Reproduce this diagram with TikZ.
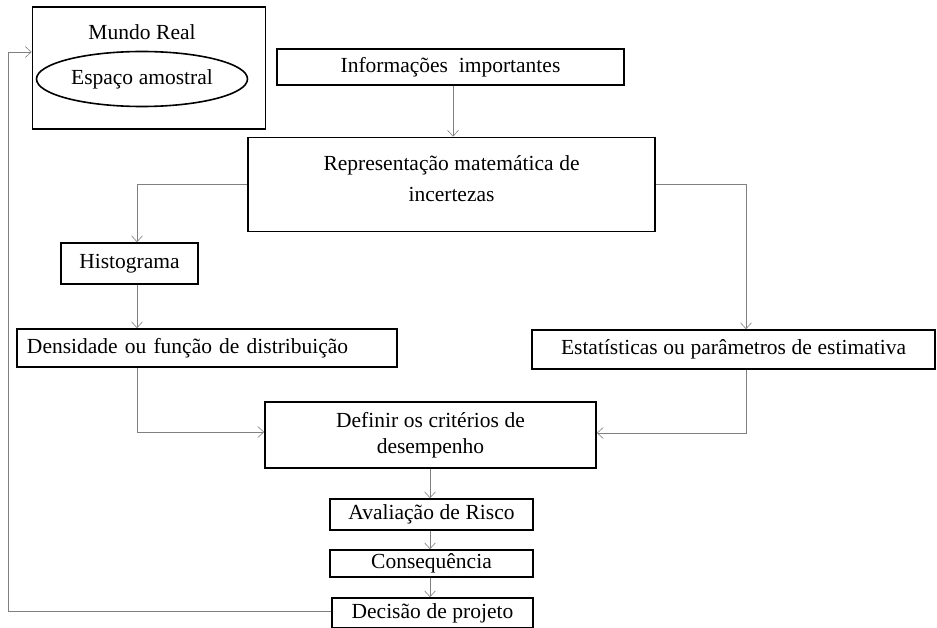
\documentclass[tikz,border=0pt]{standalone}
\usepackage{fontspec}
\setmainfont{Liberation Serif}[WordSpace=1.05]
\usetikzlibrary{arrows.meta,shapes.geometric}
% single-line labels sit slightly low in their boxes
\newcommand\lowlabel[1]{\raisebox{-2pt}{#1}}
\begin{document}
\begin{tikzpicture}[x=1pt,y=-1pt,
  box/.style={draw=black,line width=1.6pt,rectangle,inner sep=0pt,align=center,
    font=\fontsize{21.5}{26}\selectfont},
  conn/.style={draw=black!50,line width=0.6pt,
    -{Straight Barb[length=6pt,width=11pt,line width=0.6pt]}}]
\useasboundingbox (0,0) rectangle (937,628);
\begin{scope}
\clip (0,0) rectangle (937,628);

% upper block: the real world and its sample space
\node[box,minimum width=233,minimum height=122] (mundo) at (149,68) {};
\node[font=\fontsize{21.5}{26}\selectfont] (mundotxt) at (142,32) {Mundo Real};
\node[draw=black,line width=1.6pt,ellipse,minimum width=211,minimum height=55,inner sep=0pt,
  font=\fontsize{21.5}{26}\selectfont] (espaco) at (142,79) {Espaço amostral};

\node[box,minimum width=347,minimum height=36] (info) at (450.5,67) {\lowlabel{Informações\enspace importantes}};
\node[box,minimum width=407,minimum height=94,font=\fontsize{21.5}{31}\selectfont] (repr) at (451.5,184.5)
  {Representação matemática de\\incertezas\\[-19pt]};

\node[box,minimum width=137,minimum height=41] (hist) at (129.5,263.5) {\lowlabel{Histograma}};
\node[box,minimum height=38,text width=360,align=left,inner xsep=10pt] (dens) at (207,348)
  {\lowlabel{Densidade ou função de distribuição}};
\node[box,minimum width=403,minimum height=39] (est) at (733.5,349.5)
  {\lowlabel{Estatísticas ou parâmetros de estimativa}};

\node[box,minimum width=331,minimum height=66] (def) at (430.5,435)
  {Definir os critérios de\\desempenho};
\node[box,minimum width=203,minimum height=31] (aval) at (431.5,514.5) {\lowlabel{Avaliação de Risco}};
\node[box,minimum width=203,minimum height=27] (cons) at (431.5,563.5) {\lowlabel{Consequência}};
\node[box,minimum width=201,minimum height=30] (dec) at (432.5,613) {\lowlabel{Decisão de projeto}};

% routing columns
\coordinate (colL) at (137,0);
\coordinate (colR) at (746,0);
\coordinate (colM) at (430,0);
\coordinate (fb) at (8,52);

% connectors
\draw[conn] (info.south -| 453,0) -- (repr.north -| 453,0);
\draw[conn] (repr.west) -| (hist.north -| colL);
\draw[conn] (hist.south -| colL) -- (dens.north -| colL);
\draw[conn] (dens.south -| colL) |- ([yshift=3pt]def.west);
\draw[conn] (repr.east) -| (est.north -| colR);
\draw[conn] (est.south -| colR) |- ([yshift=2pt]def.east);
\draw[conn] (def.south -| colM) -- (aval.north -| colM);
\draw[conn] (aval.south -| colM) -- (cons.north -| colM);
\draw[conn] (cons.south -| colM) -- (dec.north -| colM);
\draw[conn] ([yshift=2pt]dec.west) -| (fb) -- (mundo.west |- fb);
\end{scope}
\end{tikzpicture}
\end{document}
